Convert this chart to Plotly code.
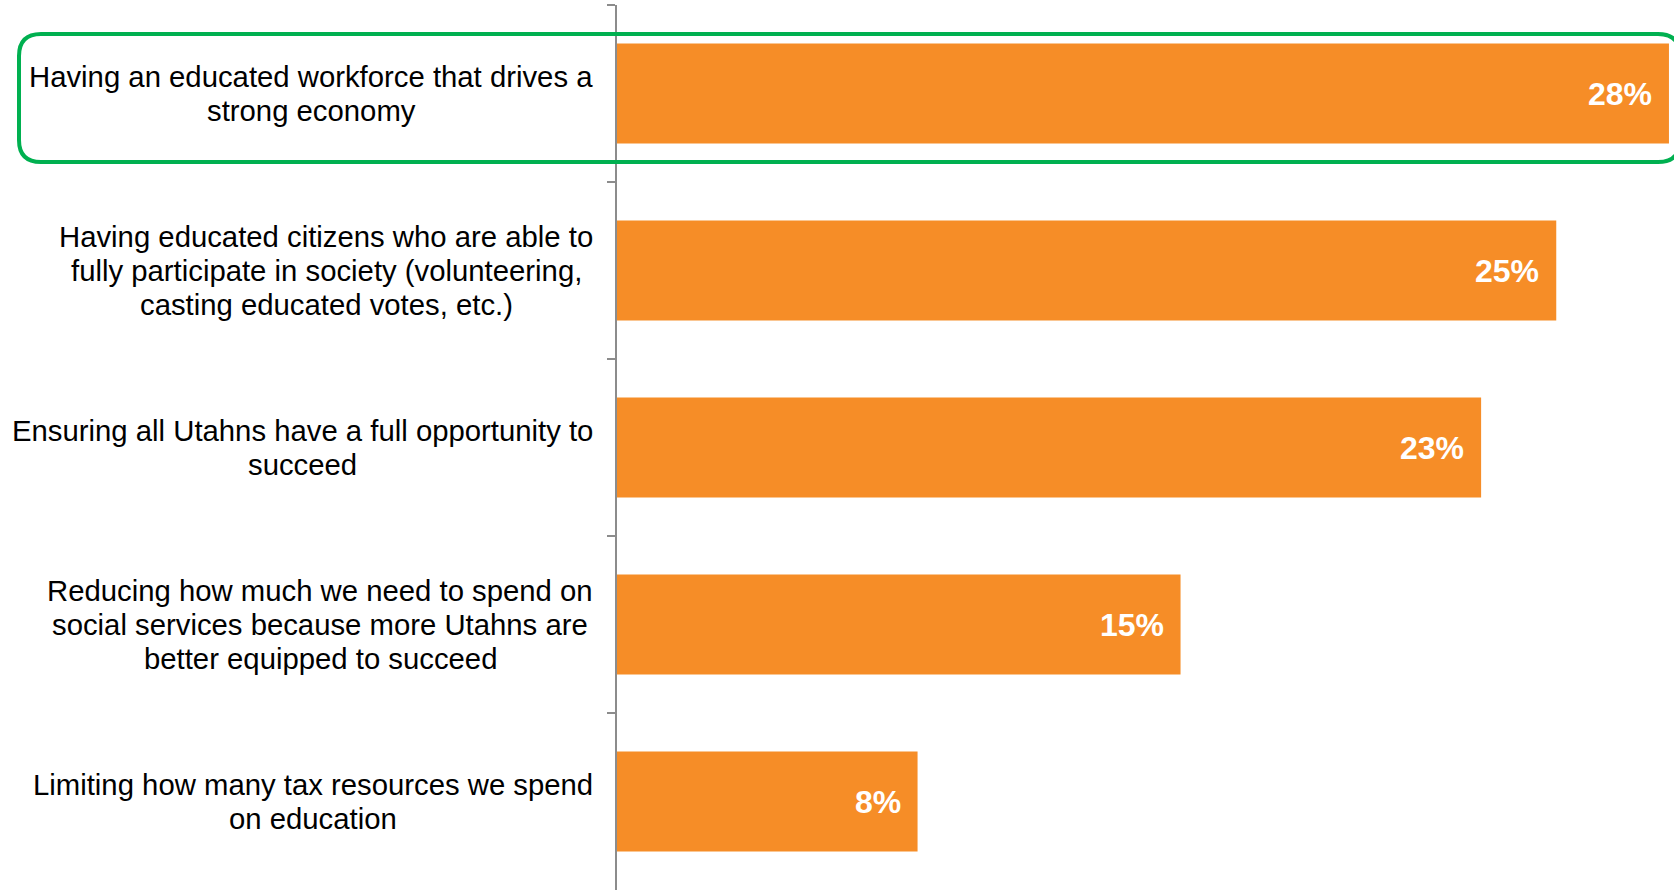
import plotly.graph_objects as go

# Survey results: most important reason to invest in education
categories = [
    "Having an educated workforce that drives a<br>strong economy",
    "Having educated citizens who are able to<br>fully participate in society (volunteering,<br>casting educated votes, etc.)",
    "Ensuring all Utahns have a full opportunity to<br>succeed",
    "Reducing how much we need to spend on<br>social services because more Utahns are<br>better equipped to succeed",
    "Limiting how many tax resources we spend<br>on education",
]
values = [28, 25, 23, 15, 8]
value_labels = ["28%", "25%", "23%", "15%", "8%"]

W, H = 1674, 890
ML, MR, MT, MB = 617, 0, 5, 0
PW, PH = W - ML - MR, H - MT - MB

# horizontal centre (px) of each wrapped label block; blocks end at the axis gap
label_centers_px = [311, 326, 302.5, 320, 313]
LINE_STEP = 34

ORANGE = "#F68D27"
GREEN = "#00B050"
AXIS_GREY = "#8C8C8C"
FONT = "Liberation Sans, Arial, Helvetica, sans-serif"


def px_x(px):
    return (px - ML) / PW


def px_y(py):
    return 1 - (py - MT) / PH


fig = go.Figure(
    go.Bar(
        x=values,
        y=categories,
        orientation="h",
        marker=dict(color=ORANGE, line=dict(width=0)),
        hoverinfo="skip",
    )
)

annotations = []
# category labels: one annotation per wrapped line, centred within the block
for cat, cx in zip(categories, label_centers_px):
    lines = cat.split("<br>")
    n = len(lines)
    for i, line in enumerate(lines):
        annotations.append(dict(
            x=px_x(cx), xref="paper", xanchor="center",
            y=cat, yref="y", yanchor="middle",
            yshift=((n - 1) / 2 - i) * LINE_STEP,
            text=line, showarrow=False,
            font=dict(family=FONT, size=29.3, color="#000000"),
        ))
# value labels inside the bar ends
for cat, v, lab in zip(categories, values, value_labels):
    annotations.append(dict(
        x=v, xref="x", xanchor="right", xshift=-15,
        y=cat, yref="y", yanchor="middle",
        text="<b>" + lab + "</b>", showarrow=False,
        font=dict(family=FONT, size=32, color="#FFFFFF"),
    ))

# rounded highlight frame around the top row (runs off the right edge)
x0, x1, y0, y1, r = 19, 1680, 34, 162, 22
path = (
    f"M {px_x(x0 + r)},{px_y(y0)} "
    f"L {px_x(x1 - r)},{px_y(y0)} "
    f"Q {px_x(x1)},{px_y(y0)} {px_x(x1)},{px_y(y0 + r)} "
    f"L {px_x(x1)},{px_y(y1 - r)} "
    f"Q {px_x(x1)},{px_y(y1)} {px_x(x1 - r)},{px_y(y1)} "
    f"L {px_x(x0 + r)},{px_y(y1)} "
    f"Q {px_x(x0)},{px_y(y1)} {px_x(x0)},{px_y(y1 - r)} "
    f"L {px_x(x0)},{px_y(y0 + r)} "
    f"Q {px_x(x0)},{px_y(y0)} {px_x(x0 + r)},{px_y(y0)} Z"
)

fig.update_layout(
    width=W, height=H,
    margin=dict(l=ML, r=MR, t=MT, b=MB, pad=0),
    paper_bgcolor="#FFFFFF", plot_bgcolor="#FFFFFF",
    bargap=0.435,
    showlegend=False,
    annotations=annotations,
    shapes=[dict(
        type="path", path=path, xref="paper", yref="paper",
        line=dict(color=GREEN, width=4), fillcolor="rgba(0,0,0,0)",
        layer="above",
    )],
    xaxis=dict(
        range=[0, PW / 37.57], visible=False, showgrid=False, zeroline=False,
    ),
    yaxis=dict(
        type="category", autorange="reversed",
        showticklabels=False, showgrid=False, zeroline=False,
        showline=True, linecolor=AXIS_GREY, linewidth=1.5,
        ticks="outside", tickson="boundaries", ticklen=8,
        tickcolor=AXIS_GREY, tickwidth=1.5,
    ),
)

fig.write_html("out.html")
